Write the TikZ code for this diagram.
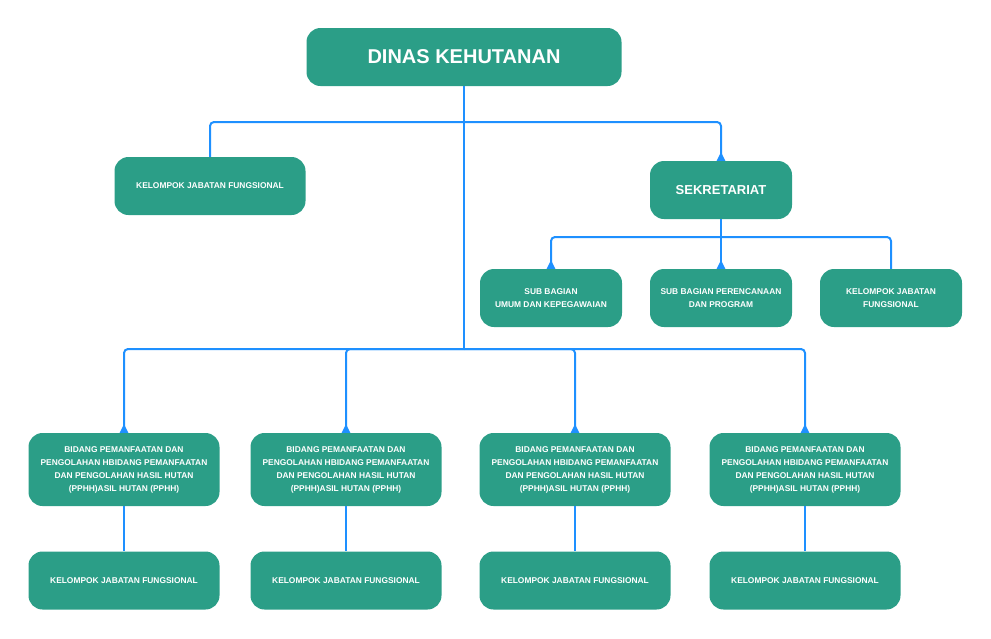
\documentclass[tikz,border=0pt]{standalone}
\usepackage{fontspec}
\setmainfont{Liberation Sans}
\usetikzlibrary{arrows.meta}
\definecolor{teal}{HTML}{2B9E87}
\definecolor{linkblue}{HTML}{1E90FF}
\tikzset{
  unit/.style={rectangle, rounded corners=14pt, fill=teal, text=white, font=\bfseries\fontsize{8.4}{13}\selectfont, align=center, inner sep=2pt},
  head/.style={unit, minimum width=315pt, minimum height=58pt, font=\bfseries\fontsize{20}{24}\selectfont},
  sekbox/.style={unit, minimum width=142pt, minimum height=58pt, font=\bfseries\fontsize{13}{16}\selectfont},
  subbox/.style={unit, minimum width=142pt, minimum height=58pt},
  groupbox/.style={unit, minimum width=191pt, minimum height=58pt},
  fieldbox/.style={unit, minimum width=191pt, minimum height=73pt},
  link/.style={draw=linkblue, line width=2pt, rounded corners=4pt},
  tiplink/.style={link, -{Triangle[reversed, width=8pt, length=9pt]}}
}
\begin{document}
\begin{tikzpicture}[x=1pt, y=-1pt]
  \useasboundingbox (0,0) rectangle (991,638);

  \node[head] (dinas) at (464,57) {DINAS KEHUTANAN};
  \node[groupbox] (kjftop) at (210,186) {KELOMPOK JABATAN FUNGSIONAL};
  \node[sekbox] (sek) at (721,190) {SEKRETARIAT};

  \node[subbox] (umum) at (551,298) {SUB BAGIAN\\UMUM DAN KEPEGAWAIAN};
  \node[subbox] (prog) at (721,298) {SUB BAGIAN PERENCANAAN\\DAN PROGRAM};
  \node[subbox] (kjfsek) at (891,298) {KELOMPOK JABATAN\\FUNGSIONAL};

  \node[fieldbox] (bid1) at (124,469.5) {BIDANG PEMANFAATAN DAN\\PENGOLAHAN HBIDANG PEMANFAATAN\\DAN PENGOLAHAN HASIL HUTAN\\(PPHH)ASIL HUTAN (PPHH)};
  \node[fieldbox] (bid2) at (346,469.5) {BIDANG PEMANFAATAN DAN\\PENGOLAHAN HBIDANG PEMANFAATAN\\DAN PENGOLAHAN HASIL HUTAN\\(PPHH)ASIL HUTAN (PPHH)};
  \node[fieldbox] (bid3) at (575,469.5) {BIDANG PEMANFAATAN DAN\\PENGOLAHAN HBIDANG PEMANFAATAN\\DAN PENGOLAHAN HASIL HUTAN\\(PPHH)ASIL HUTAN (PPHH)};
  \node[fieldbox] (bid4) at (805,469.5) {BIDANG PEMANFAATAN DAN\\PENGOLAHAN HBIDANG PEMANFAATAN\\DAN PENGOLAHAN HASIL HUTAN\\(PPHH)ASIL HUTAN (PPHH)};

  \node[groupbox] (kjf1) at (124,580.5) {KELOMPOK JABATAN FUNGSIONAL};
  \node[groupbox] (kjf2) at (346,580.5) {KELOMPOK JABATAN FUNGSIONAL};
  \node[groupbox] (kjf3) at (575,580.5) {KELOMPOK JABATAN FUNGSIONAL};
  \node[groupbox] (kjf4) at (805,580.5) {KELOMPOK JABATAN FUNGSIONAL};

  % junctions
  \coordinate (upper) at (464,122);
  \coordinate (sekjoin) at (721,237);
  \coordinate (lower) at (464,349);

  \draw[link] (dinas.south) -- (lower);
  \draw[link] (upper) -| (kjftop.north);
  \draw[tiplink] (upper) -| (sek.north);

  \draw[link] (sek.south) -- (sekjoin);
  \draw[tiplink] (sekjoin) -| (umum.north);
  \draw[tiplink] (sekjoin) -- (prog.north);
  \draw[link] (sekjoin) -| (kjfsek.north);

  \draw[tiplink] (lower) -| (bid1.north);
  \draw[tiplink] (lower) -| (bid2.north);
  \draw[tiplink] (lower) -| (bid3.north);
  \draw[tiplink] (lower) -| (bid4.north);

  \draw[link] (bid1) -- (kjf1);
  \draw[link] (bid2) -- (kjf2);
  \draw[link] (bid3) -- (kjf3);
  \draw[link] (bid4) -- (kjf4);
\end{tikzpicture}
\end{document}
